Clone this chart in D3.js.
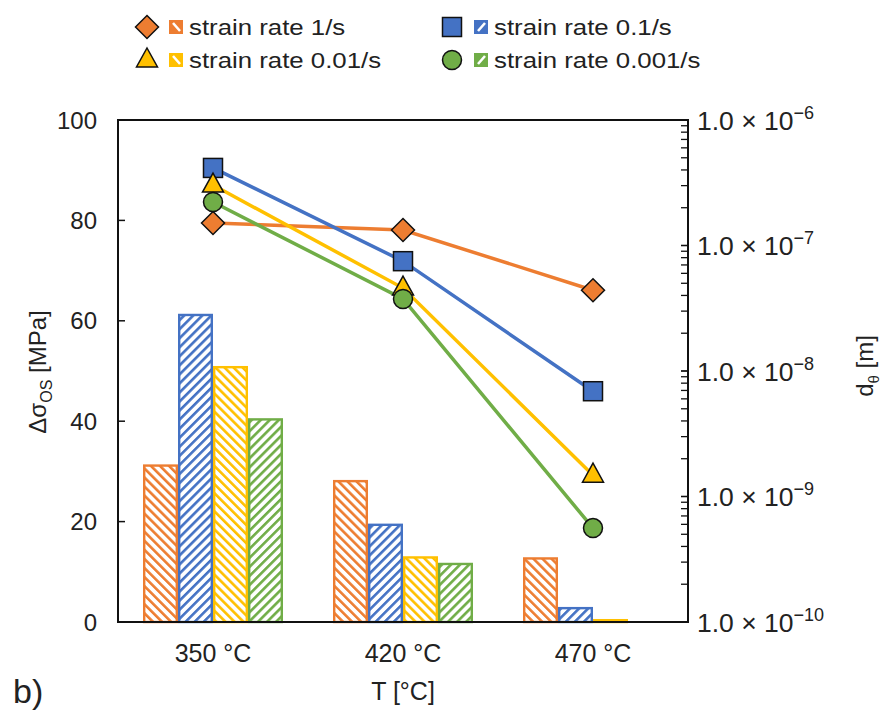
<!DOCTYPE html>
<html>
<head>
<meta charset="utf-8">
<script src="https://cdn.jsdelivr.net/npm/d3@7"></script>
<style>
  body { margin: 0; background: #fff; }
  svg text { font-family: "Liberation Sans", Arial, sans-serif; fill: #222; }
</style>
</head>
<body>
<svg id="chart" width="884" height="711"></svg>
<script>
// data
const categories = ["350 °C", "420 °C", "470 °C"];
const seriesNames = ["strain rate 1/s", "strain rate 0.1/s", "strain rate 0.01/s", "strain rate 0.001/s"];
const seriesColors = ["#ED7D31", "#4472C4", "#FFC000", "#70AD47"];
const seriesMarkers = ["diamond", "square", "triangle", "circle"];
const seriesHatch = [-45, 45, -45, 45];

// bars: delta sigma OS [MPa]
const stress1 = [31.4, 28.3, 12.9];
const stress01 = [61.4, 19.6, 3.0];
const stress001 = [51.0, 13.1, 0.6];
const stress0001 = [40.6, 11.8, 0];

// lines: d_theta [m]
const dSize1 = [1.51e-7, 1.33e-7, 4.4e-8];
const dSize01 = [4.15e-7, 7.5e-8, 6.9e-9];
const dSize001 = [3.03e-7, 4.58e-8, 1.48e-9];
const dSize0001 = [2.22e-7, 3.75e-8, 5.6e-10];

const leftTicks = [0, 20, 40, 60, 80, 100];
const rightTicks = [1e-10, 1e-9, 1e-8, 1e-7, 1e-6];

const stressSeries = [stress1, stress01, stress001, stress0001];
const dSeries = [dSize1, dSize01, dSize001, dSize0001];

const svg = d3.select("#chart");
const pLeft = 118, pRight = 688, pTop = 120, pBottom = 622;

let x = d3.scaleBand().domain(categories).range([pLeft, pRight]);
let xIn = d3.scaleBand().domain(d3.range(4)).range([25, 165]);
let y = d3.scaleLinear().domain([0, 100]).range([pBottom, pTop]);
let yR = d3.scaleLog().domain([1e-10, 1e-6]).range([pBottom, pTop]);

// hatch patterns
let defs = svg.append("defs");
seriesColors.forEach(function (c, i) {
  let p = defs.append("pattern")
    .attr("id", "hatch" + i)
    .attr("patternUnits", "userSpaceOnUse")
    .attr("width", 6.4).attr("height", 6.4)
    .attr("patternTransform", "rotate(" + seriesHatch[i] + ")");
  p.append("rect").attr("width", 6.4).attr("height", 6.4).attr("fill", "#fff");
  p.append("rect").attr("width", 2.6).attr("height", 6.4).attr("fill", c);
});

// bars
stressSeries.forEach(function (vals, s) {
  svg.append("g").selectAll("rect").data(vals).enter().append("rect")
    .attr("x", function (d, i) { return x(categories[i]) + xIn(s) + 1.2; })
    .attr("y", function (d) { return y(d) + 1.2; })
    .attr("width", xIn.bandwidth() - 2.4)
    .attr("height", function (d) { return Math.max(0, pBottom - y(d) - 1.2); })
    .attr("fill", "url(#hatch" + s + ")")
    .attr("stroke", seriesColors[s])
    .attr("stroke-width", function (d) { return d > 0 ? 2.4 : 0; });
});

// frame and axes
svg.append("rect").attr("x", pLeft).attr("y", pTop)
  .attr("width", pRight - pLeft).attr("height", pBottom - pTop)
  .attr("fill", "none").attr("stroke", "#111").attr("stroke-width", 2);

let gL = svg.append("g");
gL.selectAll("line").data(leftTicks).enter().append("line")
  .attr("x1", pLeft).attr("x2", pLeft + 7)
  .attr("y1", function (d) { return y(d); }).attr("y2", function (d) { return y(d); })
  .attr("stroke", "#111").attr("stroke-width", 1.5);
gL.selectAll("text").data(leftTicks).enter().append("text")
  .attr("x", 97).attr("y", function (d) { return y(d) + 8.5; })
  .attr("text-anchor", "end").attr("font-size", 24)
  .text(function (d) { return d; });

// right log axis, minor ticks inward
let minor = [];
for (let e = -10; e < -6; e++) {
  for (let m = 1; m <= 10; m++) minor.push(m * Math.pow(10, e));
}
svg.append("g").selectAll("line").data(minor).enter().append("line")
  .attr("x1", pRight - 7).attr("x2", pRight)
  .attr("y1", function (d) { return yR(d); }).attr("y2", function (d) { return yR(d); })
  .attr("stroke", "#111").attr("stroke-width", 1.3);

let rt = svg.append("g").selectAll("text").data(rightTicks).enter().append("text")
  .attr("x", 697).attr("y", function (d) { return yR(d) + 9.5; })
  .attr("font-size", 26.5);
rt.append("tspan").text("1.0 × 10");
rt.append("tspan").attr("dy", -11).attr("font-size", 18)
  .text(function (d) { return "−" + Math.round(-Math.log10(d)); });

// category labels
svg.append("g").selectAll("text").data(categories).enter().append("text")
  .attr("x", function (d) { return x(d) + x.bandwidth() / 2; })
  .attr("y", 662).attr("text-anchor", "middle").attr("font-size", 25)
  .text(function (d) { return d; });

// axis titles
svg.append("text").attr("x", 403).attr("y", 700).attr("text-anchor", "middle")
  .attr("font-size", 25).text("T [°C]");
svg.append("text").attr("x", 13).attr("y", 703).attr("font-size", 34).text("b)");

let tl = svg.append("text").attr("transform", "translate(46,372) rotate(-90)")
  .attr("text-anchor", "middle").attr("font-size", 24);
tl.append("tspan").text("Δσ");
tl.append("tspan").attr("dy", 6).attr("font-size", 16).text("OS");
tl.append("tspan").attr("dy", -6).text(" [MPa]");

let tr = svg.append("text").attr("transform", "translate(873,366) rotate(-90)")
  .attr("text-anchor", "middle").attr("font-size", 24);
tr.append("tspan").text("d");
tr.append("tspan").attr("dy", 6).attr("font-size", 15).text("θ");
tr.append("tspan").attr("dy", -6).text(" [m]");

// markers
function drawMarker(g, type, cx, cy, color) {
  if (type === "diamond") {
    g.append("path").attr("d", "M" + cx + "," + (cy - 11.5) + "L" + (cx + 11.5) + "," + cy +
      "L" + cx + "," + (cy + 11.5) + "L" + (cx - 11.5) + "," + cy + "Z");
  } else if (type === "square") {
    g.append("rect").attr("x", cx - 9.5).attr("y", cy - 9.5).attr("width", 19).attr("height", 19);
  } else if (type === "triangle") {
    g.append("path").attr("d", "M" + cx + "," + (cy - 12) + "L" + (cx + 10.5) + "," + (cy + 7) +
      "L" + (cx - 10.5) + "," + (cy + 7) + "Z");
  } else {
    g.append("circle").attr("cx", cx).attr("cy", cy).attr("r", 9.5);
  }
  g.selectAll("*").attr("fill", color).attr("stroke", "#111").attr("stroke-width", 1.5);
}

let line = d3.line()
  .x(function (d, i) { return x(categories[i]) + x.bandwidth() / 2; })
  .y(function (d) { return yR(d); });

dSeries.forEach(function (vals, s) {
  svg.append("path").datum(vals).attr("d", line)
    .attr("fill", "none").attr("stroke", seriesColors[s]).attr("stroke-width", 3.5);
});
dSeries.forEach(function (vals, s) {
  vals.forEach(function (v, i) {
    drawMarker(svg.append("g"), seriesMarkers[s], x(categories[i]) + x.bandwidth() / 2, yR(v), seriesColors[s]);
  });
});

// legend
const legendX = [147, 452, 147, 452];
const legendY = [27, 27, 60, 60];
seriesNames.forEach(function (name, s) {
  let lx = legendX[s], ly = legendY[s];
  drawMarker(svg.append("g"), seriesMarkers[s], lx, ly, seriesColors[s]);
  let bx = lx + 22, by = ly - 7;
  svg.append("rect").attr("x", bx).attr("y", by).attr("width", 14).attr("height", 14)
    .attr("fill", seriesColors[s]);
  if (seriesHatch[s] < 0) {
    svg.append("line").attr("x1", bx + 4).attr("y1", by + 3).attr("x2", bx + 11).attr("y2", by + 11)
      .attr("stroke", "#fff").attr("stroke-width", 2.5);
  } else {
    svg.append("line").attr("x1", bx + 11).attr("y1", by + 3).attr("x2", bx + 4).attr("y2", by + 11)
      .attr("stroke", "#fff").attr("stroke-width", 2.5);
  }
  svg.append("text").attr("transform", "translate(" + (bx + 20) + "," + (ly + 8) + ") scale(1.2,1)")
    .attr("font-size", 21.5).text(name);
});
</script>
</body>
</html>
